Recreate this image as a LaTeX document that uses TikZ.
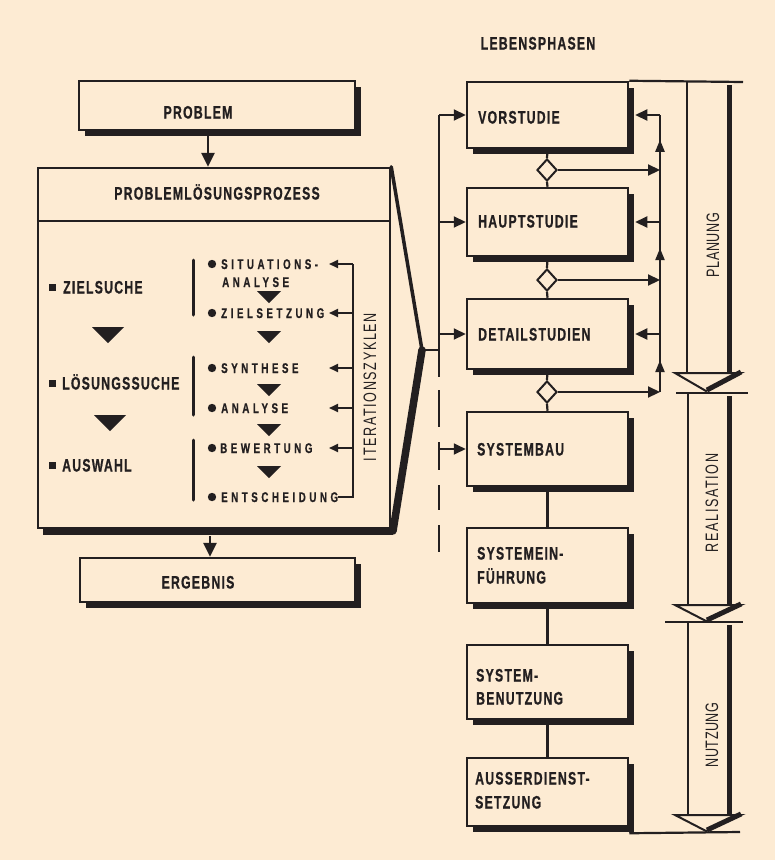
\documentclass[tikz,border=0pt]{standalone}
\usepackage{fontspec}
\usetikzlibrary{arrows.meta,shadows,shapes.geometric,decorations.markings}
\definecolor{bg}{RGB}{253,235,211}
\definecolor{ink}{RGB}{35,31,32}
\newfontfamily\fntmain{Liberation Sans}[FakeStretch=0.68,LetterSpace=7,FakeBold=0.8]
\newfontfamily\fntsmall{Liberation Sans}[FakeStretch=0.7,LetterSpace=25,FakeBold=0.6]
\newfontfamily\fntphase{Liberation Sans}[FakeStretch=0.7,LetterSpace=3]
\newfontfamily\fntwide{Liberation Sans}[FakeStretch=0.7,LetterSpace=9]
\tikzset{
  box/.style={draw=ink, line width=2.5pt, fill=bg, inner sep=0pt,
    drop shadow={shadow xshift=6pt, shadow yshift=-6pt, opacity=1, fill=ink}},
  pbox/.style={draw=ink, line width=2.5pt, fill=bg, inner sep=0pt},
  rb/.style={box, minimum width=161pt},
  txt/.style={inner sep=0pt, text=ink, font=\fntmain\bfseries\fontsize{18}{20}\selectfont, text height=13pt, text depth=0pt},
  stxt/.style={inner sep=0pt, text=ink, anchor=west, font=\fntsmall\bfseries\fontsize{14}{16}\selectfont, text height=10pt, text depth=0pt},
  ptxt/.style={inner sep=0pt, text=ink, rotate=90, font=\fntphase\fontsize{18}{20}\selectfont},
  wtxt/.style={inner sep=0pt, text=ink, rotate=90, font=\fntwide\fontsize{18}{20}\selectfont},
  ln/.style={draw=ink, line width=2.2pt},
  arr/.style={ln, -{Triangle[length=12pt,width=11pt]}},
  barr/.style={draw=ink, line width=2.8pt, -{Triangle[length=14pt,width=13pt]}},
  sarr/.style={draw=ink, line width=1.8pt, -{Triangle[length=9pt,width=8pt]}},
  upmark/.style={postaction=decorate, decoration={markings,
      mark=at position 0.55 with {\arrow{Triangle[length=12pt,width=9pt]}}}},
  dia/.style={diamond, draw=ink, line width=2pt, fill=bg, inner sep=0pt, minimum width=20pt, minimum height=22pt},
  thin/.style={draw=ink, line width=2.2pt},
  thick/.style={draw=ink, line width=5pt},
}
\begin{document}
\begin{tikzpicture}[x=1pt,y=-1pt]
\fill[bg] (0,0) rectangle (775,860);
\useasboundingbox (0,0) rectangle (775,860);

% ---------------- left part ----------------
\coordinate (ax) at (208,0);
\coordinate (ax2) at (210,0);
\node[box, minimum width=276pt, minimum height=49pt] (prob) at (217,105.5) {};
\node[txt] (probt) at (198,112) {PROBLEM};

\node[pbox, minimum width=352pt, minimum height=360pt] (plp) at (214,348) {};
\fill[ink] (43,527) rectangle (393,535);
\draw[ln] ([yshift=-54pt]plp.north west) -- ([yshift=-54pt]plp.north east);
\node[txt] (plpt) at (217,193) {PROBLEMLÖSUNGSPROZESS};

\draw[barr] (prob.south -| ax) -- (plp.north -| ax);

\node[box, minimum width=275pt, minimum height=44pt] (erg) at (217.5,580) {};
\node[txt] (ergt) at (198,582) {ERGEBNIS};
\draw[barr] ([yshift=-7pt]plp.south -| ax2) -- (erg.north -| ax2);

% wedge
\coordinate (wtip) at (422,350);
\coordinate (wbot) at (393,531);
\coordinate (bk0) at (439,115);
\coordinate (bk1) at (439,377);
\coordinate (bk2) at (439,390);
\coordinate (bk3) at (439,552);
\draw[ink, line width=3.5pt, line cap=round] (plp.north east) -- (wtip);
\draw[ink, line width=7.5pt, line cap=round] (wtip) -- (wbot);
\draw[ink, line width=1.6pt] (wtip) -- (wtip -| bk0);

% main phases
\fill[ink] (48.5,283.5) rectangle (56,290.5);
\node[txt, anchor=west] (zs) at (63,287) {ZIELSUCHE};
\fill[ink] (48.5,379.5) rectangle (56,386.5);
\node[txt, anchor=west] (ls) at (62,383) {LÖSUNGSSUCHE};
\fill[ink] (48.5,461.5) rectangle (56,468.5);
\node[txt, anchor=west] (aw) at (62,465) {AUSWAHL};
\fill[ink] (92,327) -- (124,327) -- (108,343) -- cycle;
\fill[ink] (94,415) -- (126,415) -- (110,431) -- cycle;

% brackets
\draw[ink, line width=3pt, line cap=round] (193,260) -- (193,315);
\draw[ink, line width=3pt, line cap=round] (193,357) -- (193,415);
\draw[ink, line width=3pt, line cap=round] (193,440) -- (193,500);

% iteration steps
\foreach \yy in {264,313,368,408,448,497} \fill[ink] (212,\yy) circle (4.2pt);
\node[stxt] (sit) at (221,264) {SITUATIONS-};
\node[stxt] (sit2) at (222,282) {ANALYSE};
\node[stxt] (zst) at (221,313) {ZIELSETZUNG};
\node[stxt] (syn) at (221,368) {SYNTHESE};
\node[stxt] (ana) at (221,408) {ANALYSE};
\node[stxt] (bew) at (220,448) {BEWERTUNG};
\node[stxt] (ent) at (221,497) {ENTSCHEIDUNG};
\foreach \yy in {297,337,390,430,472} \fill[ink] (257,\yy-6) -- (281,\yy-6) -- (269,\yy+6) -- cycle;

\coordinate (iv0) at (353,264);
\coordinate (iv5) at (353,497);
\draw[ln, line width=1.8pt] (ent.east) -- (iv5) -- (iv0);
\foreach \yy in {264,313,368,408,448} \draw[sarr] (353,\yy) -- (329,\yy);
\node[wtxt] (iter) at (370,387) {ITERATIONSZYKLEN};

% ---------------- right part ----------------
\node[txt] (leb) at (538,43) {LEBENSPHASEN};

\node[rb, minimum height=66pt] (vor) at (547.5,115) {};
\node[rb, minimum height=68pt] (hau) at (547.5,222) {};
\node[rb, minimum height=70pt] (det) at (547.5,334) {};
\node[rb, minimum height=74pt] (sys) at (547.5,449) {};
\node[rb, minimum height=75pt] (sye) at (547.5,565.5) {};
\node[rb, minimum height=74pt] (syb) at (547.5,682) {};
\node[rb, minimum height=68pt] (aus) at (547.5,792) {};

\node[txt, anchor=west] (vort) at (478,117) {VORSTUDIE};
\node[txt, anchor=west] (haut) at (478,221) {HAUPTSTUDIE};
\node[txt, anchor=west] (dett) at (478,334) {DETAILSTUDIEN};
\node[txt, anchor=west] (syst) at (477,449) {SYSTEMBAU};
\node[txt, anchor=west] (sye1) at (477,553) {SYSTEMEIN-};
\node[txt, anchor=west] (sye2) at (477,577) {FÜHRUNG};
\node[txt, anchor=west] (syb1) at (476,675) {SYSTEM-};
\node[txt, anchor=west] (syb2) at (476,698) {BENUTZUNG};
\node[txt, anchor=west] (aus1) at (475,778) {AUSSERDIENST-};
\node[txt, anchor=west] (aus2) at (475,802) {SETZUNG};

% diamonds and vertical connectors
\node[dia] (d1) at (547,170) {};
\node[dia] (d2) at (547,280) {};
\node[dia] (d3) at (547,392) {};
\draw[ln] (vor.south) -- (d1.north);
\draw[ln] (d1.south) -- (hau.north);
\draw[ln] (hau.south) -- (d2.north);
\draw[ln] (d2.south) -- (det.north);
\draw[ln] (det.south) -- (d3.north);
\draw[ln] (d3.south) -- (sys.north);
\draw[ln] (sys.south) -- (sye.north);
\draw[ln] (sye.south) -- (syb.north);
\draw[ln] (syb.south) -- (aus.north);

% feedback on right
\coordinate (rv0) at (660,115);
\coordinate (r1) at (660,170);
\coordinate (rh) at (660,222);
\coordinate (r2) at (660,280);
\coordinate (rd) at (660,334);
\coordinate (r3) at (660,392);
\draw[ln] (r3) -- (rv0);
\draw[ln, upmark] (r1) -- (rv0);
\draw[ln, upmark] (r2) -- (rh);
\draw[ln, upmark] (r3) -- (rd);
\draw[arr] (rv0) -- ([xshift=6pt]vor.east);
\draw[arr] (rh) -- ([xshift=6pt]hau.east);
\draw[arr] (rd) -- ([xshift=6pt]det.east);
\draw[arr] (d1.east) -- (r1);
\draw[arr] (d2.east) -- (r2);
\draw[arr] (d3.east) -- (r3);

% left bracket line with arrows
\draw[ln] (bk0) -- (bk1);
\draw[ink, line width=2.6pt, dash pattern=on 37pt off 15pt on 28pt off 15pt on 25pt off 15pt on 27pt off 60pt] (bk2) -- (bk3);
\draw[arr] (bk0) -- (vor.west);
\draw[arr] (hau.west -| bk0) -- (hau.west);
\draw[arr] (det.west -| bk0) -- (det.west);
\draw[arr, line width=1.8pt] (sys.west -| bk0) -- (sys.west);

% phase arrows
\coordinate (topend) at (743,82);
\draw[ln] (vor.north east) -- (topend);
% PLANUNG
\draw[thin, line width=2.6pt] (687,82) -- (687,374);
\draw[thick] (729,85) -- (729,374);
\draw[ink, line width=2pt, fill=bg] (675,373) -- (741,373) -- (706,391) -- cycle;
\draw[ink, line width=5pt] (741,372) -- (707,390);
\draw[thin] (676,393) -- (748,393);
\node[ptxt] (plan) at (713,245) {PLANUNG};
% REALISATION
\draw[thin, line width=2.6pt] (688,393) -- (688,606);
\draw[thick] (729,396) -- (729,606);
\draw[ink, line width=2pt, fill=bg] (675,605) -- (741,605) -- (706,621) -- cycle;
\draw[ink, line width=5pt] (741,604) -- (707,620);
\draw[thin] (665,622) -- (743,622);
\node[wtxt] (real) at (712,503) {REALISATION};
% NUTZUNG
\draw[thin, line width=2.6pt] (688,622) -- (688,816);
\draw[thick] (729,625) -- (729,816);
\draw[ink, line width=2pt, fill=bg] (675,815) -- (741,815) -- (706,831) -- cycle;
\draw[ink, line width=5pt] (741,814) -- (707,830);
\coordinate (botend) at (740,832);
\draw[ln] ([yshift=-6pt]aus.south east) -- (botend);
\node[ptxt] (nutz) at (712,735) {NUTZUNG};
\end{tikzpicture}
\end{document}
